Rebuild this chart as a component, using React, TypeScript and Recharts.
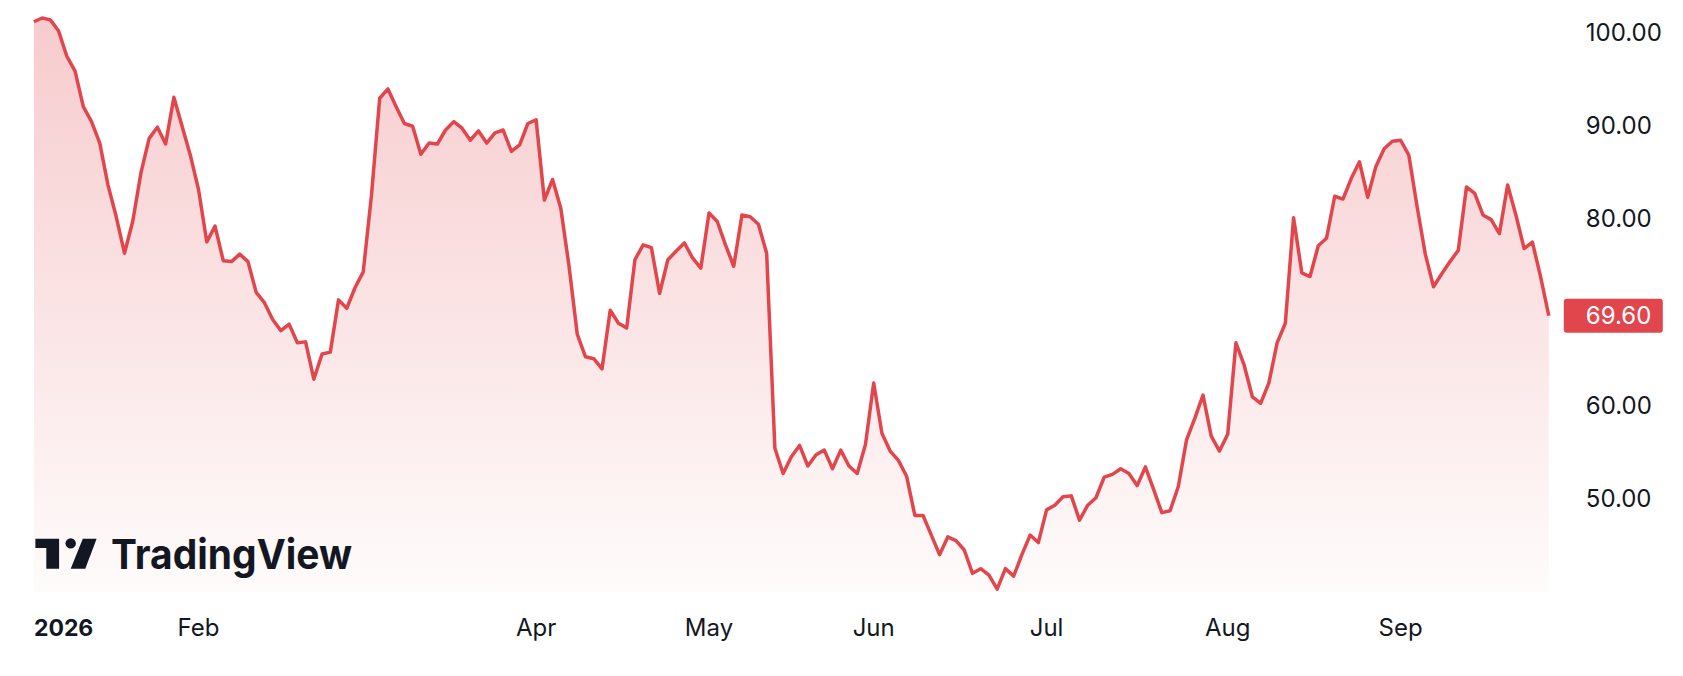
import React from 'react';
import { Area, AreaChart, XAxis, YAxis } from 'recharts';

// daily closes, 2026, one array per month (trading days only)
const jan = [101.1, 101.5, 101.3, 100.1, 97.4, 95.8, 92.0, 90.4, 88.1, 83.6, 80.2, 76.3, 79.7, 84.9, 88.6, 89.8, 88.0, 93.0, 89.9, 86.8];
const feb = [83.1, 77.5, 79.2, 75.5, 75.4, 76.2, 75.4, 72.1, 71.0, 69.2, 68.0, 68.7, 66.7, 66.8, 62.8, 65.5, 65.7, 71.3, 70.4];
const mar = [72.6, 74.3, 82.5, 92.9, 93.9, 92.0, 90.2, 89.9, 86.9, 88.1, 88.0, 89.5, 90.4, 89.7, 88.4, 89.4, 88.1, 89.2, 89.5, 87.2, 87.9, 90.2];
const apr = [90.6, 82.0, 84.2, 81.1, 74.9, 67.6, 65.2, 65.0, 63.9, 70.2, 68.8, 68.3, 75.6, 77.2, 76.9, 72.0, 75.6, 76.5, 77.4, 75.8, 74.7];
const may = [80.6, 79.7, 77.2, 74.9, 80.4, 80.2, 79.4, 76.3, 55.4, 52.7, 54.5, 55.7, 53.5, 54.7, 55.2, 53.2, 55.2, 53.5, 52.7, 55.8];
const jun = [62.4, 57.0, 55.1, 54.1, 52.4, 48.2, 48.2, 46.1, 44.0, 45.9, 45.5, 44.5, 42.0, 42.5, 41.8, 40.3, 42.5, 41.7, 44.0, 46.1, 45.3];
const jul = [48.8, 49.3, 50.2, 50.3, 47.7, 49.3, 50.1, 52.3, 52.6, 53.2, 52.7, 51.4, 53.4, 51.0, 48.5, 48.7, 51.3, 56.3, 58.6, 61.1, 56.7, 55.1];
const aug = [56.9, 66.7, 64.3, 60.9, 60.2, 62.4, 66.7, 68.8, 80.1, 74.2, 73.8, 77.1, 77.9, 82.4, 82.1, 84.3, 86.1, 82.3, 85.6, 87.5, 88.3];
const sep = [88.4, 86.8, 81.3, 76.2, 72.7, 74.1, 75.4, 76.6, 83.4, 82.7, 80.4, 79.9, 78.4, 83.6, 80.4, 76.8, 77.5, 73.8, 69.6];

const months = [jan, feb, mar, apr, may, jun, jul, aug, sep];
const monthLabels = ['2026', 'Feb', 'Mar', 'Apr', 'May', 'Jun', 'Jul', 'Aug', 'Sep'];
const hiddenLabels = ['Mar']; // TradingView drops it for spacing
const priceTicks = [50, 60, 80, 90, 100];

const RED = '#e2464d';
const TEXT = '#131722';
const FONT = 'Inter, "Noto Sans", sans-serif';

const closes = months.flat();
const data = closes.map((close, i) => ({ i, close }));
const lastClose = closes[closes.length - 1];

// first bar of every month
const monthStarts: number[] = [];
months.reduce((start, m) => {
  monthStarts.push(start);
  return start + m.length;
}, 0);
const labelAt: Record<number, string> = {};
monthStarts.forEach((s, k) => {
  if (!hiddenLabels.includes(monthLabels[k])) labelAt[s] = monthLabels[k];
});
const xTicks = Object.keys(labelAt).map(Number);

const W = 1683;
const H = 676;

const MonthTick = (props: any) => {
  const { x, y, payload } = props;
  const first = payload.value === 0;
  return (
    <text
      x={x}
      y={y}
      dy={36}
      textAnchor={first ? 'start' : 'middle'}
      fontFamily={FONT}
      fontSize={first ? 23 : 24}
      fontWeight={first ? 700 : 400}
      fill={TEXT}
    >
      {labelAt[payload.value]}
    </text>
  );
};

const PriceTick = (props: any) => {
  const { x, y, payload } = props;
  const isLast = payload.value === lastClose;
  return (
    <g>
      {isLast && <rect x={x + 7} y={y - 17} width={99} height={34} rx={3} fill={RED} />}
      <text
        x={x + 29}
        y={y}
        dominantBaseline="central"
        fontFamily={FONT}
        fontSize={24}
        fill={isLast ? '#ffffff' : TEXT}
      >
        {payload.value.toFixed(2)}
      </text>
    </g>
  );
};

// TradingView watermark, bottom left of the pane
const Watermark = () => (
  <svg width={W} height={H} style={{ position: 'absolute', left: 0, top: 0, pointerEvents: 'none' }}>
    <path d="M35.4 538.8 H59.1 V568.8 H46.3 V548.1 H35.4 Z" fill={TEXT} />
    <circle cx={70.7} cy={543.4} r={5.2} fill={TEXT} />
    <path d="M82.8 538.8 H96.6 L85.3 568.8 H70.7 Z" fill={TEXT} />
    <text
      x={111}
      y={569}
      fontFamily={FONT}
      fontSize={41}
      fontWeight={700}
      textLength={241}
      lengthAdjust="spacingAndGlyphs"
      fill={TEXT}
    >
      TradingView
    </text>
  </svg>
);

export default function App() {
  return (
    <div style={{ position: 'absolute', left: 0, top: 0, width: W, height: H, background: '#fff' }}>
      <AreaChart width={W} height={H} data={data} margin={{ top: 0, right: 0, bottom: 0, left: 33.9 }}>
        <defs>
          <linearGradient id="fillGrad" x1="0" y1="0" x2="0" y2="1">
            <stop offset="0%" stopColor={RED} stopOpacity={0.28} />
            <stop offset="100%" stopColor={RED} stopOpacity={0.02} />
          </linearGradient>
        </defs>
        <XAxis
          dataKey="i"
          type="number"
          domain={[0, closes.length - 1]}
          ticks={xTicks}
          interval={0}
          axisLine={false}
          tickLine={false}
          height={84}
          tick={<MonthTick />}
        />
        <YAxis
          orientation="right"
          type="number"
          domain={[40, 103.43]}
          allowDataOverflow
          ticks={[...priceTicks, lastClose].sort((a, b) => a - b)}
          interval={0}
          axisLine={false}
          tickLine={false}
          width={134.2}
          tick={<PriceTick />}
        />
        <Area
          type="linear"
          dataKey="close"
          stroke={RED}
          strokeWidth={3.5}
          strokeLinejoin="round"
          fill="url(#fillGrad)"
          fillOpacity={1}
          dot={false}
          activeDot={false}
          isAnimationActive={false}
        />
      </AreaChart>
      <Watermark />
    </div>
  );
}
